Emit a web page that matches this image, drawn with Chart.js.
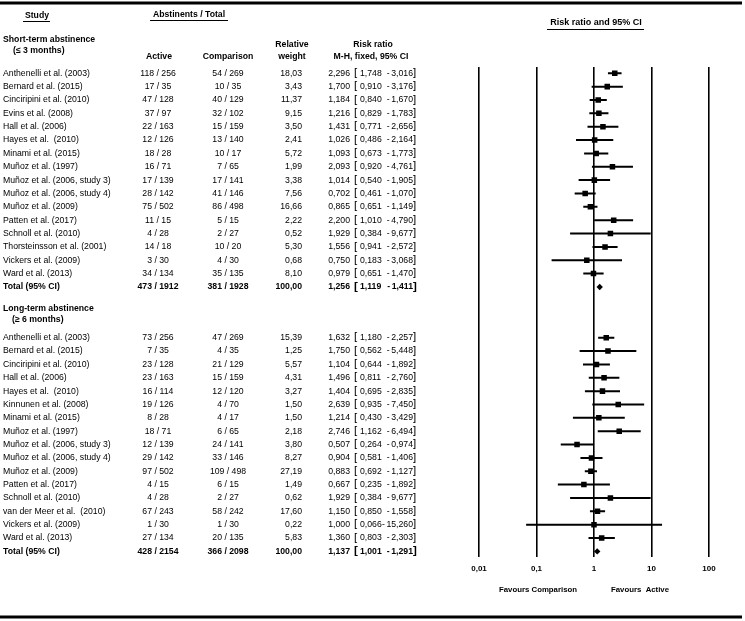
<!DOCTYPE html>
<html>
<head>
<meta charset="utf-8">
<script src="https://cdn.jsdelivr.net/npm/chart.js@4.4.0/dist/chart.umd.min.js"></script>
<style>
body { margin: 0; background: #fff; }
canvas { display: block; }
</style>
</head>
<body>
<canvas id="forest" width="745" height="621"></canvas>
<script>
// Short-term abstinence (<= 3 months)
const shortStudies = ['Anthenelli et al. (2003)', 'Bernard et al. (2015)', 'Cinciripini et al. (2010)', 'Evins et al. (2008)',
  'Hall et al. (2006)', 'Hayes et al.  (2010)', 'Minami et al. (2015)', 'Muñoz et al. (1997)', 'Muñoz et al. (2006, study 3)',
  'Muñoz et al. (2006, study 4)', 'Muñoz et al. (2009)', 'Patten et al. (2017)', 'Schnoll et al. (2010)',
  'Thorsteinsson et al. (2001)', 'Vickers et al. (2009)', 'Ward et al. (2013)'];
const shortActEv = [118, 17, 47, 37, 22, 12, 18, 16, 17, 28, 75, 11, 4, 14, 3, 34];
const shortActN = [256, 35, 128, 97, 163, 126, 28, 71, 139, 142, 502, 15, 28, 18, 30, 134];
const shortCmpEv = [54, 10, 40, 32, 15, 13, 10, 7, 17, 41, 86, 5, 2, 10, 4, 35];
const shortCmpN = [269, 35, 129, 102, 159, 140, 17, 65, 141, 146, 498, 15, 27, 20, 30, 135];
const shortWeight = [18.03, 3.43, 11.37, 9.15, 3.50, 2.41, 5.72, 1.99, 3.38, 7.56, 16.66, 2.22, 0.52, 5.30, 0.68, 8.10];
const shortRR = [2.296, 1.700, 1.184, 1.216, 1.431, 1.026, 1.093, 2.093, 1.014, 0.702, 0.865, 2.200, 1.929, 1.556, 0.750, 0.979];
const shortLo = [1.748, 0.910, 0.840, 0.829, 0.771, 0.486, 0.673, 0.920, 0.540, 0.461, 0.651, 1.010, 0.384, 0.941, 0.183, 0.651];
const shortHi = [3.016, 3.176, 1.670, 1.783, 2.656, 2.164, 1.773, 4.761, 1.905, 1.070, 1.149, 4.790, 9.677, 2.572, 3.068, 1.470];
const shortTotal = [473, 1912, 381, 1928, 100.00, 1.256, 1.119, 1.411];

// Long-term abstinence (>= 6 months)
const longStudies = ['Anthenelli et al. (2003)', 'Bernard et al. (2015)', 'Cinciripini et al. (2010)', 'Hall et al. (2006)',
  'Hayes et al.  (2010)', 'Kinnunen et al. (2008)', 'Minami et al. (2015)', 'Muñoz et al. (1997)', 'Muñoz et al. (2006, study 3)',
  'Muñoz et al. (2006, study 4)', 'Muñoz et al. (2009)', 'Patten et al. (2017)', 'Schnoll et al. (2010)',
  'van der Meer et al.  (2010)', 'Vickers et al. (2009)', 'Ward et al. (2013)'];
const longActEv = [73, 7, 23, 23, 16, 19, 8, 18, 12, 29, 97, 4, 4, 67, 1, 27];
const longActN = [256, 35, 128, 163, 114, 126, 28, 71, 139, 142, 502, 15, 28, 243, 30, 134];
const longCmpEv = [47, 4, 21, 15, 12, 4, 4, 6, 24, 33, 109, 6, 2, 58, 1, 20];
const longCmpN = [269, 35, 129, 159, 120, 70, 17, 65, 141, 146, 498, 15, 27, 242, 30, 135];
const longWeight = [15.39, 1.25, 5.57, 4.31, 3.27, 1.50, 1.50, 2.18, 3.80, 8.27, 27.19, 1.49, 0.62, 17.60, 0.22, 5.83];
const longRR = [1.632, 1.750, 1.104, 1.496, 1.404, 2.639, 1.214, 2.746, 0.507, 0.904, 0.883, 0.667, 1.929, 1.150, 1.000, 1.360];
const longLo = [1.180, 0.562, 0.644, 0.811, 0.695, 0.935, 0.430, 1.162, 0.264, 0.581, 0.692, 0.235, 0.384, 0.850, 0.066, 0.803];
const longHi = [2.257, 5.448, 1.892, 2.760, 2.835, 7.450, 3.429, 6.494, 0.974, 1.406, 1.127, 1.892, 9.677, 1.558, 15.260, 2.303];
const longTotal = [428, 2154, 366, 2098, 100.00, 1.137, 1.001, 1.291];

const xTicks = [0.01, 0.1, 1, 10, 100];

// row positions on the y axis
const shortRows = shortStudies.map((s, i) => i);
const shortTotalRow = shortRows.length;
const longStart = 19.8;
const longRows = longStudies.map((s, i) => longStart + i);
const longTotalRow = longStart + longRows.length;

const FONT = "'Liberation Sans', Arial, sans-serif";
Chart.defaults.font.family = FONT;

function f3(v) { return v.toFixed(3).replace('.', ','); }
function f2(v) { return v.toFixed(2).replace('.', ','); }

// whiskers: pairs of points broken by null
function whiskers(lo, hi, rows) {
  let pts = [];
  lo.forEach((l, i) => {
    pts.push({x: l, y: rows[i]});
    pts.push({x: hi[i], y: rows[i]});
    pts.push({x: hi[i], y: null});
  });
  return pts;
}

let squares = [];
shortRR.forEach((v, i) => squares.push({x: v, y: shortRows[i]}));
longRR.forEach((v, i) => squares.push({x: v, y: longRows[i]}));
const diamonds = [{x: shortTotal[5], y: shortTotalRow}, {x: longTotal[5], y: longTotalRow}];

function txt(ctx, s, x, y, align, bold, size) {
  ctx.font = (bold ? 'bold ' : '') + (size || 8.7) + 'px ' + FONT;
  ctx.textAlign = align || 'left';
  ctx.textBaseline = 'middle';
  ctx.fillStyle = '#000';
  ctx.fillText(s, x, y);
  return ctx.measureText(s).width;
}

function underline(ctx, x1, x2, y) {
  ctx.strokeStyle = '#000';
  ctx.lineWidth = 1;
  ctx.beginPath();
  ctx.moveTo(x1, y + 0.5);
  ctx.lineTo(x2, y + 0.5);
  ctx.stroke();
}

function drawRow(ctx, y, name, aE, aN, cE, cN, w, rr, lo, hi, bold) {
  txt(ctx, name, 3, y, 'left', bold);
  txt(ctx, aE + ' / ' + aN, 158, y, 'center', bold);
  txt(ctx, cE + ' / ' + cN, 228, y, 'center', bold);
  txt(ctx, f2(w), 302, y, 'right', bold);
  txt(ctx, f3(rr), 350, y, 'right', bold);
  txt(ctx, '[', 354, y - 0.5, 'left', bold, 11.5);
  txt(ctx, f3(lo), 360, y, 'left', bold);
  const hw = txt(ctx, f3(hi), 413, y, 'right', bold);
  txt(ctx, '-', Math.min(392, 413 - hw - 3), y, 'center', bold);
  txt(ctx, ']', 413, y - 0.5, 'left', bold, 11.5);
}

const tablePlugin = {
  id: 'table',
  afterDraw(chart) {
    const ctx = chart.ctx;
    const ys = chart.scales.y;
    ctx.save();

    // thick rules
    ctx.strokeStyle = '#000';
    ctx.lineWidth = 3;
    ctx.beginPath();
    ctx.moveTo(0, 3); ctx.lineTo(742, 3);
    ctx.moveTo(0, 617); ctx.lineTo(742, 617);
    ctx.stroke();

    // headers
    txt(ctx, 'Study', 37, 16, 'center', true);
    underline(ctx, 23, 50, 21);
    txt(ctx, 'Abstinents / Total', 189, 15, 'center', true);
    underline(ctx, 150, 228, 20);
    txt(ctx, 'Risk ratio and 95% CI', 596, 23, 'center', true, 9);
    underline(ctx, 547, 644, 29);

    txt(ctx, 'Short-term abstinence', 3, 40, 'left', true);
    txt(ctx, '(≤ 3 months)', 13, 51, 'left', true);
    txt(ctx, 'Active', 159, 57, 'center', true);
    txt(ctx, 'Comparison', 228, 57, 'center', true);
    txt(ctx, 'Relative', 292, 45, 'center', true);
    txt(ctx, 'weight', 292, 57, 'center', true);
    txt(ctx, 'Risk ratio', 373, 45, 'center', true);
    txt(ctx, 'M-H, fixed, 95% CI', 371, 57, 'center', true);

    shortStudies.forEach((s, i) => {
      drawRow(ctx, ys.getPixelForValue(shortRows[i]), s, shortActEv[i], shortActN[i], shortCmpEv[i], shortCmpN[i],
        shortWeight[i], shortRR[i], shortLo[i], shortHi[i], false);
    });
    const st = shortTotal;
    drawRow(ctx, ys.getPixelForValue(shortTotalRow), 'Total (95% CI)', st[0], st[1], st[2], st[3], st[4], st[5], st[6], st[7], true);

    txt(ctx, 'Long-term abstinence', 3, 309, 'left', true);
    txt(ctx, '(≥ 6 months)', 12, 320, 'left', true);

    longStudies.forEach((s, i) => {
      drawRow(ctx, ys.getPixelForValue(longRows[i]), s, longActEv[i], longActN[i], longCmpEv[i], longCmpN[i],
        longWeight[i], longRR[i], longLo[i], longHi[i], false);
    });
    const lt = longTotal;
    drawRow(ctx, ys.getPixelForValue(longTotalRow), 'Total (95% CI)', lt[0], lt[1], lt[2], lt[3], lt[4], lt[5], lt[6], lt[7], true);

    txt(ctx, 'Favours Comparison', 538, 590, 'center', true, 7.8);
    txt(ctx, 'Favours  Active', 640, 590, 'center', true, 7.8);
    ctx.restore();
  }
};

const chart = new Chart(document.getElementById('forest'), {
  type: 'scatter',
  data: {
    datasets: [
      {
        data: whiskers(shortLo.concat(longLo), shortHi.concat(longHi), shortRows.concat(longRows)),
        showLine: true,
        borderColor: '#000',
        borderWidth: 2,
        pointRadius: 0,
        spanGaps: false
      },
      {
        data: squares,
        pointStyle: 'rect',
        pointRadius: 3.9,
        backgroundColor: '#000',
        borderWidth: 0
      },
      {
        data: diamonds,
        pointStyle: 'rectRot',
        pointRadius: 3.2,
        backgroundColor: '#000',
        borderWidth: 0
      }
    ]
  },
  options: {
    responsive: false,
    animation: false,
    devicePixelRatio: 1,
    layout: { padding: { left: 479, right: 36, top: 67, bottom: 40 } },
    plugins: { legend: { display: false }, tooltip: { enabled: false } },
    scales: {
      x: {
        type: 'logarithmic',
        min: 0.01,
        max: 100,
        afterBuildTicks: axis => { axis.ticks = xTicks.map(v => ({value: v})); },
        ticks: {
          color: '#000',
          padding: 7,
          font: { size: 8, weight: 'bold' },
          maxRotation: 0,
          callback: v => String(v).replace('.', ',')
        },
        grid: { color: '#000', lineWidth: 1.6, drawTicks: false },
        border: { display: false }
      },
      y: {
        type: 'linear',
        min: -0.47,
        max: 36.25,
        reverse: true,
        display: false
      }
    }
  },
  plugins: [tablePlugin]
});
</script>
</body>
</html>
